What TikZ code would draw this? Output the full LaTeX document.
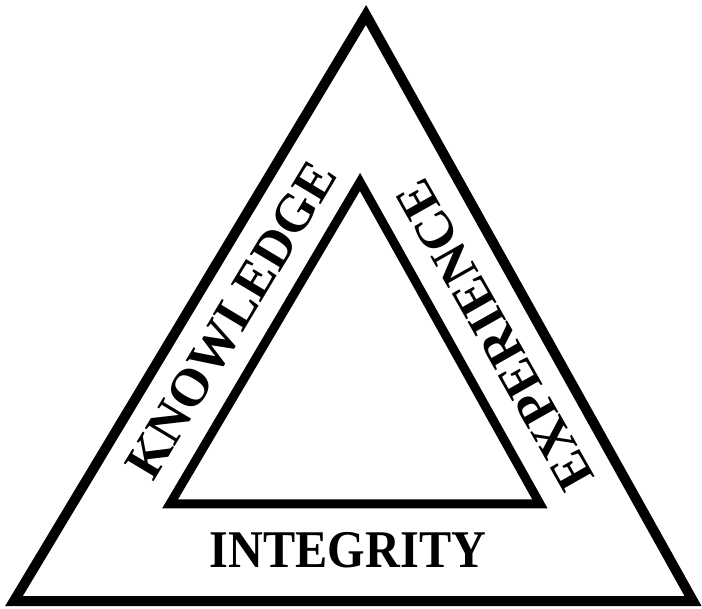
\documentclass[tikz,border=0pt]{standalone}
\usepackage{fontspec}
\setmainfont{Liberation Serif}
\newfontfamily\narrowserif[FakeStretch=0.91]{Liberation Serif}

\begin{document}
\begin{tikzpicture}[
    x=1pt, y=-1pt,
    frame/.style={draw, line width=10pt, line join=miter},
    word/.style={font=\fontsize{53}{53}\selectfont\bfseries, inner sep=0pt}
]
\useasboundingbox (0,0) rectangle (702,609);
% outer triangle
\coordinate (OT) at (366,15);
\coordinate (OL) at (14,601);
\coordinate (OR) at (693,601);
% inner triangle
\coordinate (IT) at (360,182);
\coordinate (IL) at (170,504);
\coordinate (IR) at (540,504);

\draw[frame] (OT) -- (OL) -- (OR) -- cycle;
\draw[frame, line width=9pt] (IT) -- (IL) -- (IR) -- cycle;

\node[word, rotate=59] (know) at (231,320) {KNOWLEDGE};
\node[word, rotate=119.5] (exper) at (495,335) {EXPERIENCE};
\node[word, font=\fontsize{53}{53}\selectfont\narrowserif\bfseries, anchor=base] (integ) at (348,568) {INTEGRITY};
\end{tikzpicture}
\end{document}
